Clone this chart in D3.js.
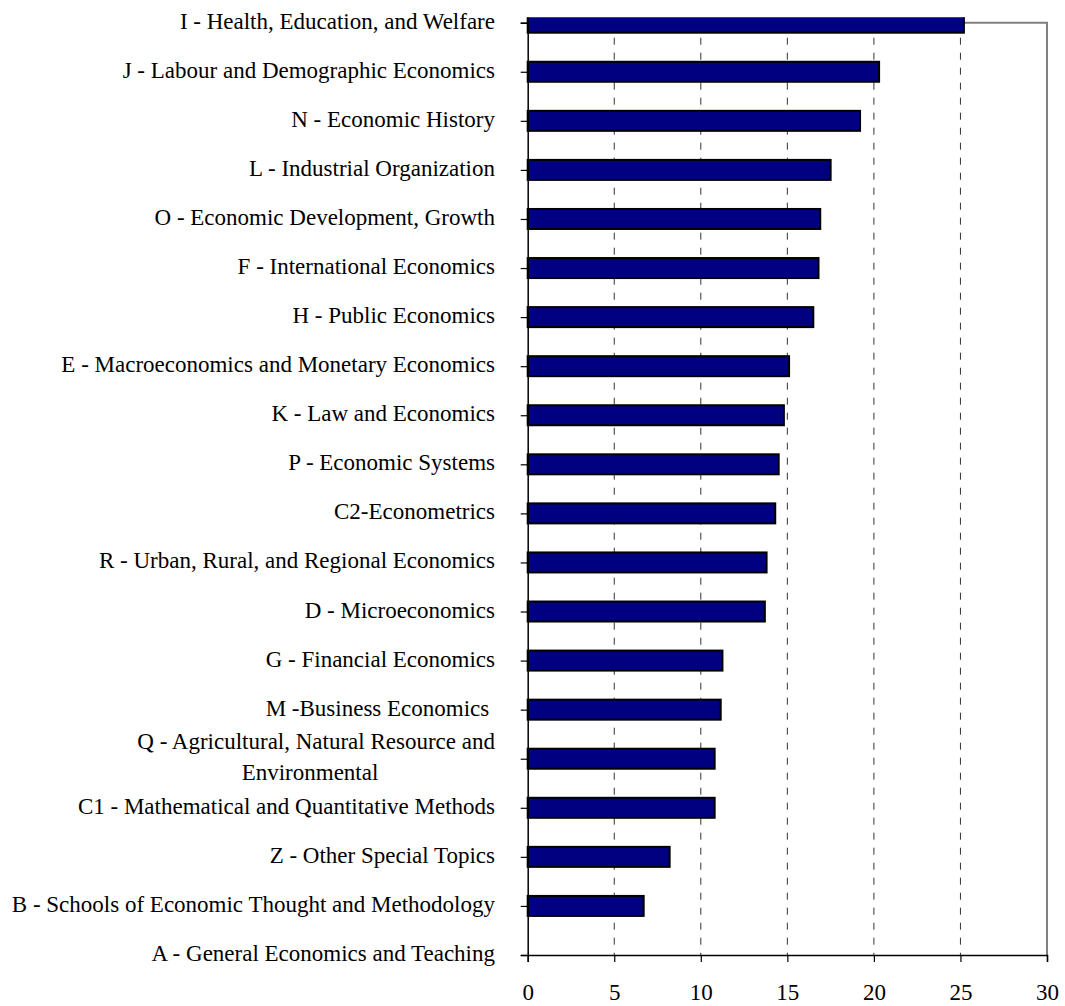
<!DOCTYPE html>
<html lang="en">
<head>
<meta charset="UTF-8">
<title>JEL categories</title>
<script src="https://d3js.org/d3.v7.min.js"></script>
<style>
  body { margin: 0; background: #fff; }
  svg text { font-family: "Liberation Serif", "Times New Roman", serif; fill: #000; white-space: pre; }
</style>
</head>
<body>
<svg id="chart" width="1065" height="1006"></svg>
<script>
// categories, top to bottom
const categories = [
  "I - Health, Education, and Welfare",
  "J - Labour and Demographic Economics",
  "N - Economic History",
  "L - Industrial Organization",
  "O - Economic Development, Growth",
  "F - International Economics",
  "H - Public Economics",
  "E - Macroeconomics and Monetary Economics",
  "K - Law and Economics",
  "P - Economic Systems",
  "C2-Econometrics",
  "R - Urban, Rural, and Regional Economics",
  "D - Microeconomics",
  "G - Financial Economics",
  "M -Business Economics ",
  "Q - Agricultural, Natural Resource and|Environmental",
  "C1 - Mathematical and Quantitative Methods",
  "Z - Other Special Topics",
  "B - Schools of Economic Thought and Methodology",
  "A - General Economics and Teaching"
];
const values = [25.2, 20.3, 19.2, 17.5, 16.9, 16.8, 16.5, 15.1, 14.8, 14.5,
                14.3, 13.8, 13.7, 11.25, 11.15, 10.8, 10.8, 8.2, 6.7, 0];
const xTicks = [0, 5, 10, 15, 20, 25, 30];

const svg = d3.select("#chart");
const mLeft = 527.7, mRight = 1047, mTop = 22.7, mBottom = 955;
const fontSize = "23px";

const x = d3.scaleLinear().domain([0, 30]).range([mLeft, mRight]);
const y = d3.scalePoint().domain(categories).range([mTop, mBottom]).padding(0);
const barH = 20;

// clip so the first bar is cut at the chart edge
svg.append("defs").append("clipPath").attr("id", "clip")
  .append("rect").attr("x", 0).attr("y", 17.3).attr("width", 1065).attr("height", 1000);

// gridlines
svg.append("g").selectAll("line")
  .data(xTicks.filter(d => d > 0 && d < 30))
  .enter().append("line")
  .attr("x1", d => x(d)).attr("x2", d => x(d))
  .attr("y1", mTop).attr("y2", mBottom)
  .attr("stroke", "#333").attr("stroke-width", 1)
  .attr("stroke-dasharray", "7 8");

// grey frame (top + right)
svg.append("path")
  .attr("d", `M${mLeft},${mTop}H${mRight}V${mBottom}`)
  .attr("fill", "none").attr("stroke", "#808080").attr("stroke-width", 2);

// bars
svg.append("g").attr("clip-path", "url(#clip)").selectAll("rect")
  .data(categories.map((c, i) => ({ c, v: values[i] })).filter(d => d.v > 0))
  .enter().append("rect")
  .attr("x", x(0))
  .attr("y", d => y(d.c) - barH / 2)
  .attr("width", d => x(d.v) - x(0))
  .attr("height", barH)
  .attr("fill", "#000080")
  .attr("stroke", "#000").attr("stroke-width", 2);

// x axis
const xAxis = svg.append("g")
  .attr("transform", `translate(0,${mBottom})`)
  .call(d3.axisBottom(x).tickValues(xTicks).tickSize(7).tickPadding(21.5).tickFormat(d3.format("d")));
xAxis.select(".domain").attr("stroke", "#000").attr("stroke-width", 1.5);
xAxis.selectAll(".tick line").attr("stroke", "#000").attr("stroke-width", 1.2);
xAxis.selectAll(".tick text").attr("font-size", fontSize)
  .attr("font-family", "Liberation Serif, serif").attr("fill", "#000");

// y axis
const yAxis = svg.append("g")
  .attr("transform", `translate(${mLeft},0)`)
  .call(d3.axisLeft(y).tickSize(7).tickFormat(""));
yAxis.select(".domain").attr("stroke", "#000").attr("stroke-width", 1.5);
yAxis.selectAll(".tick line").attr("stroke", "#000").attr("stroke-width", 1.2);

// category labels (some wrap onto two lines)
const labels = svg.append("g").attr("font-size", fontSize);
categories.forEach(c => {
  const parts = c.split("|");
  if (parts.length === 1) {
    labels.append("text")
      .attr("x", 495).attr("y", y(c) + 6)
      .attr("text-anchor", "end")
      .text(c);
  } else {
    labels.append("text")
      .attr("x", 495).attr("y", y(c) - 9.8)
      .attr("text-anchor", "end")
      .text(parts[0]);
    labels.append("text")
      .attr("x", 310).attr("y", y(c) + 21.2)
      .attr("text-anchor", "middle")
      .text(parts[1]);
  }
});
</script>
</body>
</html>
